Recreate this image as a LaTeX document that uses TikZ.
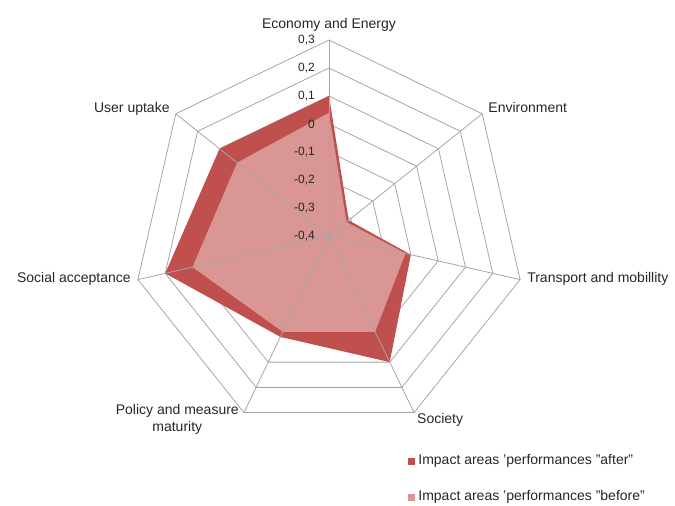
\documentclass[tikz,border=0pt]{standalone}
\usepackage{fontspec}
\setmainfont{Liberation Sans}
\usetikzlibrary{positioning}

\definecolor{afterred}{HTML}{C0504D}
\definecolor{beforepink}{HTML}{D99694}
\definecolor{gridgray}{HTML}{A6A6A6}

\tikzset{
    gridline/.style={draw=gridgray, line width=0.8pt},
    axislabel/.style={font=\fontsize{14}{17}\selectfont, inner sep=0pt, text=black!85},
    ticklabel/.style={font=\fontsize{12}{14}\selectfont, inner sep=0pt, anchor=east, text=black!85},
    legkey/.style={minimum size=7pt, inner sep=0pt},
}

\begin{document}
\begin{tikzpicture}[x=1pt, y=1pt]
                    \useasboundingbox (-329,-270) rectangle (346,236);
                    \coordinate (C) at (0,0);

                    % outer corners of the net
                    \foreach \k in {0,...,6}
                        \coordinate (O\k) at ({90-\k*360/7}:196);

                    % rings, one every 0,1
                    \foreach \r in {1,...,7}
                        \draw[gridline] (90:{28*\r}) \foreach \k in {1,...,6}{ -- ({90-\k*360/7}:{28*\r})} -- cycle;

                    % data points
                    \foreach \k/\v in {0/0.1, 1/-0.31, 2/-0.1, 3/0.1, 4/0.0, 5/0.2, 6/0.1}
                        \coordinate (A\k) at ({90-\k*360/7}:{(\v+0.4)*280});
                    \foreach \k/\v in {0/0.04, 1/-0.32, 2/-0.12, 3/-0.02, 4/-0.02, 5/0.1, 6/0.02}
                        \coordinate (B\k) at ({90-\k*360/7}:{(\v+0.4)*280});

                        \fill[afterred] (A0) -- (A1) -- (A2) -- (A3) -- (A4) -- (A5) -- (A6) -- cycle;
                        \fill[beforepink] (B0) -- (B1) -- (B2) -- (B3) -- (B4) -- (B5) -- (B6) -- cycle;

                    \foreach \k in {0,...,6}
                        \draw[gridline] (C) -- (O\k);

                    % scale
                    \foreach \i/\v in {0/{-0,4}, 1/{-0,3}, 2/{-0,2}, 3/{-0,1}, 4/{0}, 5/{0,1}, 6/{0,2}, 7/{0,3}}
                        \node[ticklabel] (T\i) at (-14,{28*\i}) {\v};

                    % axis names
                    \node[axislabel, above=8pt of O0] (EE) {Economy and Energy};
                    \node[axislabel, right=6pt of O1, yshift=6pt] (EN) {Environment};
                    \node[axislabel, right=7pt of O2, yshift=1pt] (TM) {Transport and mobillity};
                    \node[axislabel, below right=1pt and 3pt of O3] (SO) {Society};
                    \node[axislabel, align=center, anchor=north east] (PM) at ([xshift=-5pt, yshift=8pt]O4) {Policy and measure\\maturity};
                    \node[axislabel, left=7pt of O5, yshift=1pt] (SA) {Social acceptance};
                    \node[axislabel, left=6pt of O6, yshift=5pt] (UU) {User uptake};

                    % legend
                    \node[legkey, fill=afterred] (KA) at (82.5,-225) {};
                    \node[axislabel, right=3pt of KA] (LA) {Impact areas 'performances "after"};
                    \node[legkey, fill=beforepink] (KB) at (82.5,-261) {};
                    \node[axislabel, right=3pt of KB] (LB) {Impact areas 'performances "before"};
                \end{tikzpicture}
\end{document}
